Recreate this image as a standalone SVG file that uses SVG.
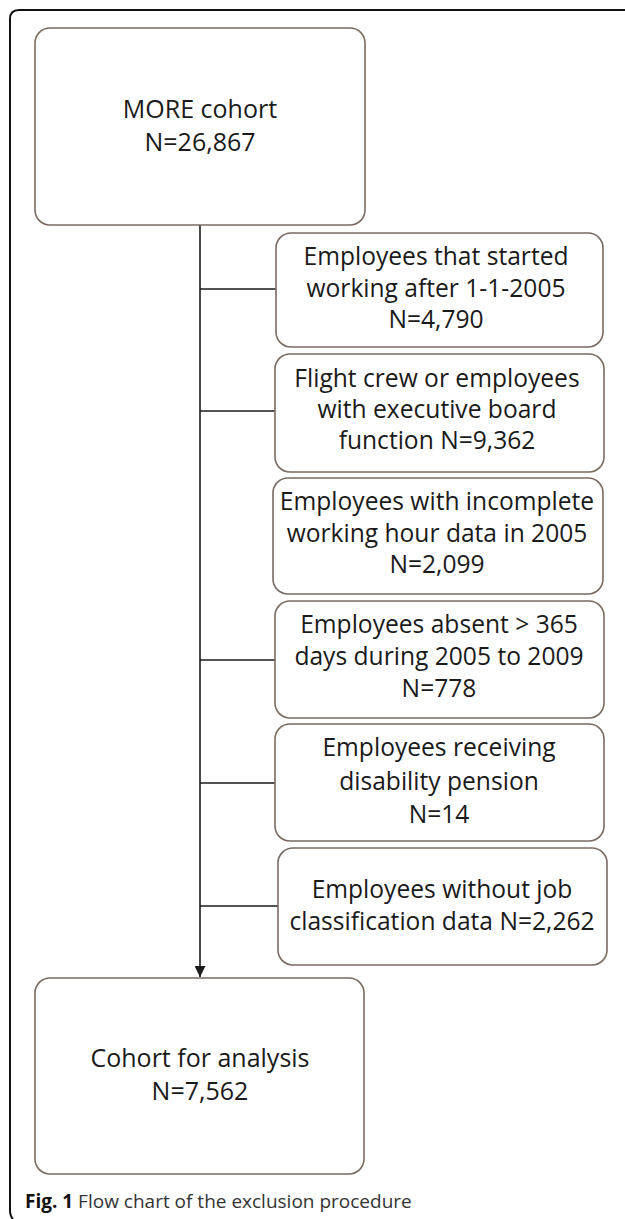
<svg xmlns="http://www.w3.org/2000/svg" width="625" height="1219" viewBox="0 0 625 1219">
<defs>
<style>
.box{fill:#fff;stroke:#7a6a62;stroke-width:1.6}
.t{font-family:"Open Sans","Liberation Sans",sans-serif;font-size:24.6px;fill:#1a1a1a;text-anchor:middle}
.tb{font-family:"Open Sans","Liberation Sans",sans-serif;font-size:25px;fill:#1a1a1a;text-anchor:middle}
.c{stroke:#1a1a1a;stroke-width:1.6;fill:none}
.cap{font-family:"Open Sans","Liberation Sans",sans-serif;font-size:19px;fill:#333}
</style>
<marker id="ah" viewBox="0 0 10 10" refX="10" refY="5" markerWidth="11" markerHeight="11" markerUnits="userSpaceOnUse" orient="auto">
<path d="M0,0 L10,5 L0,10 z" fill="#1a1a1a"/>
</marker>
</defs>
<rect width="625" height="1219" fill="#fff"/>
<path d="M625 10 H19 Q10 10 10 19 V1210 Q10 1216 13 1219" fill="none" stroke="#111" stroke-width="2"/>
<g id="connectors">
<line class="c" x1="200" y1="225" x2="200" y2="977" marker-end="url(#ah)"/>
<line class="c" x1="200" y1="289" x2="276" y2="289"/>
<line class="c" x1="200" y1="411" x2="275" y2="411"/>
<line class="c" x1="200" y1="660" x2="275" y2="660"/>
<line class="c" x1="200" y1="783" x2="275" y2="783"/>
<line class="c" x1="200" y1="906" x2="278" y2="906"/>
</g>
<g id="more">
<rect class="box" x="35" y="28" width="330" height="197" rx="15"/>
<text class="tb" x="200" y="118">MORE cohort</text>
<text class="tb" x="200" y="151">N=26,867</text>
</g>
<g id="ex1">
<rect class="box" x="276" y="233" width="327" height="114" rx="15"/>
<text class="t" x="436" y="265">Employees that started</text>
<text class="t" x="436" y="297">working after 1-1-2005</text>
<text class="t" x="436" y="328">N=4,790</text>
</g>
<g id="ex2">
<rect class="box" x="275" y="354" width="329" height="118" rx="15"/>
<text class="t" x="437" y="387">Flight crew or employees</text>
<text class="t" x="437" y="418">with executive board</text>
<text class="t" x="437" y="449">function N=9,362</text>
</g>
<g id="ex3">
<rect class="box" x="273" y="478" width="330" height="116" rx="15"/>
<text class="t" x="437" y="510">Employees with incomplete</text>
<text class="t" x="437" y="542">working hour data in 2005</text>
<text class="t" x="437" y="573">N=2,099</text>
</g>
<g id="ex4">
<rect class="box" x="275" y="601" width="329" height="117" rx="15"/>
<text class="t" x="439" y="633">Employees absent &gt; 365</text>
<text class="t" x="439" y="665">days during 2005 to 2009</text>
<text class="t" x="439" y="697">N=778</text>
</g>
<g id="ex5">
<rect class="box" x="275" y="724" width="329" height="117" rx="15"/>
<text class="t" x="439" y="756">Employees receiving</text>
<text class="t" x="439" y="790">disability pension</text>
<text class="t" x="439" y="823">N=14</text>
</g>
<g id="ex6">
<rect class="box" x="278" y="848" width="329" height="117" rx="15"/>
<text class="t" x="442" y="898">Employees without job</text>
<text class="t" x="442" y="930">classification data N=2,262</text>
</g>
<g id="final">
<rect class="box" x="35" y="978" width="329" height="196" rx="15"/>
<text class="tb" x="200" y="1067">Cohort for analysis</text>
<text class="tb" x="200" y="1100">N=7,562</text>
</g>
<text class="cap" x="25" y="1208"><tspan font-weight="bold" fill="#111">Fig. 1</tspan> Flow chart of the exclusion procedure</text>
</svg>
